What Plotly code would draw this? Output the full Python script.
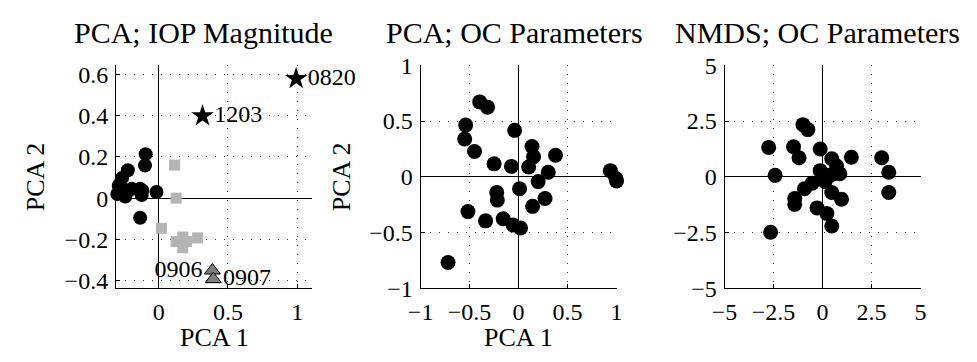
import plotly.graph_objects as go

W, H = 977, 362
FONT = "Liberation Serif, Times New Roman, serif"

# ---------------- Data ----------------
# Panel 1: PCA; IOP Magnitude
p1_circ_x = [-0.095, -0.10, -0.224, -0.266, -0.313, -0.242, -0.195, -0.135, -0.124, -0.017, -0.135, -0.29, -0.22, -0.28, -0.12, -0.30]
p1_circ_y = [0.213, 0.158, 0.135, 0.098, 0.037, 0.008, 0.045, 0.045, 0.015, 0.030, -0.095, 0.060, 0.037, 0.067, 0.037, 0.020]
p1_sq_x = [0.114, 0.125, 0.019, 0.125, 0.173, 0.173, 0.200, 0.280]
p1_sq_y = [0.160, 0.000, -0.146, -0.210, -0.188, -0.240, -0.210, -0.192]
p1_tri_x = [0.387, 0.394]
p1_tri_y = [-0.350, -0.392]
p1_tri_lab = ["0906", "0907"]
p1_star_x = [0.993, 0.316]
p1_star_y = [0.578, 0.398]
p1_star_lab = ["0820", "1203"]

# Panel 2: PCA; OC Parameters
p2_x = [-0.397, -0.317, -0.54, -0.55, -0.45, -0.04, -0.25, -0.073, 0.137, 0.153, 0.103, 0.377, 0.303, 0.20,
        0.937, 0.993, 1.0, 0.01, -0.223, -0.217, 0.27, 0.143, -0.517, -0.337, -0.157, -0.057, 0.02, -0.72]
p2_y = [0.672, 0.625, 0.464, 0.339, 0.228, 0.417, 0.117, 0.094, 0.272, 0.181, 0.089, 0.194, 0.042, -0.042,
        0.056, -0.014, -0.036, -0.106, -0.139, -0.208, -0.194, -0.264, -0.311, -0.394, -0.375, -0.431, -0.458, -0.767]

# Panel 3: NMDS; OC Parameters
p3_x = [-1.0, -0.75, -2.75, -1.48, -1.2, -0.12, 0.47, 1.47, 3.02, 3.38, 3.38, -2.42, -0.12, 0.72, 0.88,
        0.38, 0.13, -0.53, -0.92, -1.42, -1.42, 0.47, 0.97, -0.28, 0.22, 0.47, -2.65, 0.55, 0.05]
p3_y = [2.34, 2.12, 1.32, 1.35, 0.86, 1.25, 0.81, 0.88, 0.86, 0.21, -0.70, 0.07, 0.28, 0.49, 0.14,
        0.07, -0.21, -0.28, -0.53, -0.97, -1.23, -0.70, -1.0, -1.39, -1.64, -2.2, -2.48, 0.14, -0.07]

titles = ["PCA; IOP Magnitude", "PCA; OC Parameters", "NMDS; OC Parameters"]

p1_xticks = [0, 0.5, 1]
p1_xticklab = ["0", "0.5", "1"]
p1_yticks = [-0.4, -0.2, 0, 0.2, 0.4, 0.6]
p1_yticklab = ["\u22120.4", "\u22120.2", "0", "0.2", "0.4", "0.6"]
p2_ticks = [-1, -0.5, 0, 0.5, 1]
p2_ticklab = ["\u22121", "\u22120.5", "0", "0.5", "1"]
p3_ticks = [-5, -2.5, 0, 2.5, 5]
p3_ticklab = ["\u22125", "\u22122.5", "0", "2.5", "5"]

# ---------------- Layout geometry (pixels) ----------------
top_px, bot_px = 57, 297
panels_px = [(105, 305), (415.7, 615.7), (725.7, 925.7)]
ydom = [1 - bot_px / H, 1 - top_px / H]

fig = go.Figure()

circ = dict(symbol="circle", color="black", size=14, line=dict(width=0))

fig.add_trace(go.Scatter(x=p1_circ_x, y=p1_circ_y, mode="markers", marker=circ, cliponaxis=False,
                         xaxis="x", yaxis="y"))
fig.add_trace(go.Scatter(x=p1_sq_x, y=p1_sq_y, mode="markers", cliponaxis=False,
                         marker=dict(symbol="square", color="#b4b4b4", size=11, line=dict(width=0)),
                         xaxis="x", yaxis="y"))
fig.add_trace(go.Scatter(x=p1_tri_x, y=p1_tri_y, mode="markers+text", text=p1_tri_lab, cliponaxis=False,
                         textposition=["middle left", "middle right"],
                         textfont=dict(family=FONT, size=24, color="black"),
                         marker=dict(symbol="triangle-up", color="#7f7f7f", size=14, line=dict(color="black", width=1)),
                         xaxis="x", yaxis="y"))
fig.add_trace(go.Scatter(x=p1_star_x, y=p1_star_y, mode="markers+text", text=p1_star_lab, cliponaxis=False,
                         textposition="middle right",
                         textfont=dict(family=FONT, size=24, color="black"),
                         marker=dict(symbol="star", color="black", size=17, line=dict(width=0)),
                         xaxis="x", yaxis="y"))
fig.add_trace(go.Scatter(x=p2_x, y=p2_y, mode="markers", marker=dict(circ, size=15), cliponaxis=False,
                         xaxis="x2", yaxis="y2"))
fig.add_trace(go.Scatter(x=p3_x, y=p3_y, mode="markers", marker=dict(circ, size=15), cliponaxis=False,
                         xaxis="x3", yaxis="y3"))

def axstyle(**kw):
    d = dict(showline=True, linecolor="black", linewidth=1, mirror=False,
             ticks="inside", ticklen=4, tickcolor="black", tickwidth=1,
             showgrid=True, gridcolor="#333333", gridwidth=1, griddash="1px,8px",
             zeroline=True, zerolinecolor="black", zerolinewidth=1,
             tickfont=dict(family=FONT, size=24, color="black"),
             tickmode="array", fixedrange=True, ticklabelstandoff=2)
    d.update(kw)
    return d

xdoms = [[a / W, b / W] for a, b in panels_px]

fig.update_layout(
    width=W, height=H, margin=dict(l=0, r=0, t=0, b=0),
    paper_bgcolor="white", plot_bgcolor="white", showlegend=False,
    font=dict(family=FONT, color="black"),
    xaxis=axstyle(domain=xdoms[0], range=[-0.31, 1.108], tickvals=p1_xticks, ticktext=p1_xticklab, anchor="y"),
    yaxis=axstyle(domain=ydom, range=[-0.437, 0.644], tickvals=p1_yticks, ticktext=p1_yticklab, anchor="x"),
    xaxis2=axstyle(domain=xdoms[1], range=[-1, 1.002], tickvals=p2_ticks, ticktext=p2_ticklab, anchor="y2"),
    yaxis2=axstyle(domain=ydom, range=[-1, 1.002], tickvals=p2_ticks, ticktext=p2_ticklab, anchor="x2"),
    xaxis3=axstyle(domain=xdoms[2], range=[-5, 5.01], tickvals=p3_ticks, ticktext=p3_ticklab, anchor="y3"),
    yaxis3=axstyle(domain=ydom, range=[-5, 5.01], tickvals=p3_ticks, ticktext=p3_ticklab, anchor="x3"),
)

# Titles
title_cx = [194, 511, 820]
for t, cx in zip(titles, title_cx):
    fig.add_annotation(text=t, x=cx / W, y=1 - 22 / H, xref="paper", yref="paper",
                       xanchor="center", yanchor="middle", showarrow=False,
                       font=dict(family=FONT, size=30, color="black"))

# Axis labels
for cx in [205, 515.7]:
    fig.add_annotation(text="PCA 1", x=cx / W, y=1 - 350 / H, xref="paper", yref="paper",
                       xanchor="center", yanchor="middle", showarrow=False,
                       font=dict(family=FONT, size=26, color="black"))
for cx in [23, 335]:
    fig.add_annotation(text="PCA 2", x=cx / W, y=1 - 177 / H, xref="paper", yref="paper",
                       xanchor="center", yanchor="middle", showarrow=False, textangle=-90,
                       font=dict(family=FONT, size=26, color="black"))

fig.write_html("out.html")
